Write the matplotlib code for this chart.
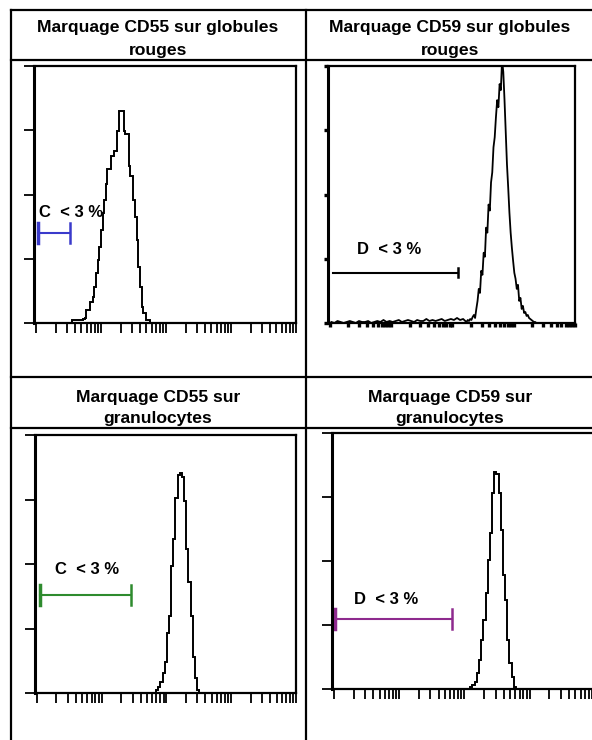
import numpy as np
import matplotlib
matplotlib.use("Agg")
import matplotlib.pyplot as plt
from matplotlib.lines import Line2D

plt.rcParams['font.family'] = ['Liberation Sans Narrow', 'Liberation Sans', 'DejaVu Sans']

# histogram counts (channel bins on a 4-decade log scale)
# CD55 on red cells: bins of 0.025 decade starting at 10^0.55
cd55_rbc_start, cd55_rbc_width = 0.55, 0.025
cd55_rbc_counts = [3, 3, 3, 3, 3, 3, 3, 4, 5, 13, 13, 21, 21, 26, 36, 50,
                   63, 76, 93, 110, 123, 138, 153, 153, 166, 166, 171, 171,
                   191, 211, 211, 211, 191, 188, 188, 156, 146, 146, 123, 106,
                   83, 56, 36, 16, 10, 10, 3, 3]

# CD59 on red cells: noisy baseline (0.05 decade) then the peak (0.02 decade)
cd59_rbc_noise_start, cd59_rbc_noise_width = 0.0, 0.05
cd59_rbc_noise = [1, 0, 2, 1, 0, 1, 2, 1, 0, 2, 1, 1, 2, 0, 1, 2, 1, 3, 1, 2, 1, 2,
                  3, 1, 2, 3, 2, 1, 3, 2, 2, 4, 2, 3, 2, 3, 4, 2, 3, 4, 3, 5, 3, 4]
cd59_rbc_start, cd59_rbc_width = 2.20, 0.02
cd59_rbc_counts = [2, 1, 3, 2, 4, 3, 6, 8, 5, 14, 22, 34, 30, 52, 48, 70, 66, 95,
                   90, 118, 112, 140, 150, 175, 185, 205, 222, 215, 238, 232, 262,
                   250, 222, 190, 158, 135, 110, 90, 75, 62, 50, 44, 34, 38, 22,
                   25, 14, 17, 10, 11, 7, 8, 5, 4, 3, 2, 1, 1, 0, 0]

# CD55 on granulocytes: bins of 1/30 decade
cd55_gran_start, cd55_gran_width = 1.839, 1 / 30
cd55_gran_counts = [3, 6, 11, 20, 31, 60, 76, 126, 153, 193, 216, 218, 214, 191,
                    143, 110, 76, 36, 15, 3]

# CD59 on granulocytes
cd59_gran_start, cd59_gran_width = 2.089, 1 / 30
cd59_gran_counts = [2, 4, 7, 16, 29, 49, 69, 96, 129, 156, 196, 217, 215, 196,
                    159, 114, 89, 49, 26, 12, 2]

titles = [["Marquage CD55 sur globules", "rouges"],
          ["Marquage CD59 sur globules", "rouges"],
          ["Marquage CD55 sur", "granulocytes"],
          ["Marquage CD59 sur", "granulocytes"]]
gate_labels = ["C  < 3 %", "D  < 3 %", "C  < 3 %", "D  < 3 %"]
gate_ranges = [(0.03, 0.52), (0.05, 2.09), (0.046, 1.456), (0.015, 1.81)]
gate_levels = [90, 50, 97, 70]
gate_colors = ["#3a3acb", "black", "#2e8b2e", "#8e2a8e"]

W, H = 592, 740
fig = plt.figure(figsize=(W / 100, H / 100), dpi=100)


def fx(x):
    return x / W


def fy(y):
    return 1 - y / H


def box(left, top, right, bottom):
    return [fx(left), fy(bottom), (right - left) / W, (bottom - top) / H]


def edges(start, width, n):
    return 10 ** (start + width * np.arange(n + 1))


def style_axes(ax, tick_len=7, tick_w=1.3, minor_len=7):
    ax.set_xscale('log')
    ax.set_xlim(10 ** -0.03, 10 ** 4)
    ax.set_ylim(0, 256)
    ax.set_yticks([0, 64, 128, 192, 256])
    ax.set_xticks([1, 10, 100, 1000, 10000])
    ax.xaxis.set_minor_locator(matplotlib.ticker.LogLocator(subs=range(2, 10)))
    ax.tick_params(axis='both', which='both', direction='out', labelleft=False,
                   labelbottom=False, width=tick_w, length=tick_len)
    ax.tick_params(axis='x', which='minor', length=minor_len, width=tick_w)
    for s in ax.spines.values():
        s.set_linewidth(1.6)
    ax.spines['left'].set_linewidth(2.2)


# table grid
lw_tab = 1.6
for y in [10, 60, 377, 428]:
    fig.add_artist(Line2D([fx(11), fx(592)], [fy(y), fy(y)], color='black', lw=lw_tab))
for x in [11, 306]:
    fig.add_artist(Line2D([fx(x), fx(x)], [fy(10), fy(740)], color='black', lw=lw_tab))

# headers
centers = [(158, 32, 55), (450, 32, 55), (158, 402, 423), (450, 402, 423)]
for (cx, y1, y2), lines in zip(centers, titles):
    fig.text(fx(cx), fy(y1), lines[0], ha='center', va='baseline', fontsize=12.6,
             fontweight='bold')
    fig.text(fx(cx), fy(y2), lines[1], ha='center', va='baseline', fontsize=12.6,
             fontweight='bold')

ax1 = fig.add_axes(box(34, 66, 296, 323))
ax2 = fig.add_axes(box(328, 66, 575, 323))
ax3 = fig.add_axes(box(35, 435, 296, 693))
ax4 = fig.add_axes(box(332, 433, 595, 689))

style_axes(ax1)
style_axes(ax2, tick_len=3, tick_w=2.4, minor_len=3)
style_axes(ax3)
style_axes(ax4)

ax1.stairs(cd55_rbc_counts, edges(cd55_rbc_start, cd55_rbc_width, len(cd55_rbc_counts)),
           color='black', lw=1.4)
ax3.stairs(cd55_gran_counts, edges(cd55_gran_start, cd55_gran_width, len(cd55_gran_counts)),
           color='black', lw=1.4)
ax4.stairs(cd59_gran_counts, edges(cd59_gran_start, cd59_gran_width, len(cd59_gran_counts)),
           color='black', lw=1.4)

# red cell CD59 drawn as a raw line
noise_x = 10 ** (cd59_rbc_noise_start + cd59_rbc_noise_width * (np.arange(len(cd59_rbc_noise)) + 0.5))
peak_x = 10 ** (cd59_rbc_start + cd59_rbc_width * (np.arange(len(cd59_rbc_counts)) + 0.5))
ax2.plot(np.concatenate([noise_x, peak_x]), cd59_rbc_noise + cd59_rbc_counts,
         color='black', lw=1.3, clip_on=True)

# gates
axes = [ax1, ax2, ax3, ax4]
label_pos = [(0.046, 110), (0.44, 73), (0.28, 123), (0.31, 89)]
for i, ax in enumerate(axes):
    lo, hi = gate_ranges[i]
    lev = gate_levels[i]
    c = gate_colors[i]
    ax.plot([10 ** lo, 10 ** hi], [lev, lev], color=c, lw=1.5)
    cap = 4.5 if i == 1 else 10
    ax.plot([10 ** hi, 10 ** hi], [lev - cap, lev + cap], color=c, lw=1.8)
    if i != 1:
        ax.plot([10 ** lo, 10 ** lo], [lev - cap, lev + cap], color=c, lw=2.5)
    lx, ly = label_pos[i]
    ax.text(10 ** lx, ly, gate_labels[i], ha='left', va='center', fontsize=12,
            fontweight='bold')

fig.savefig('out.png', dpi=100)
